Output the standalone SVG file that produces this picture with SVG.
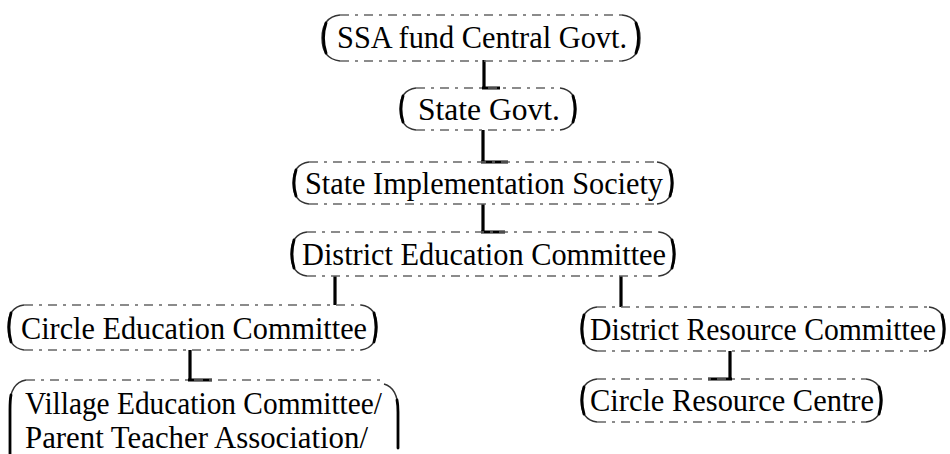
<svg xmlns="http://www.w3.org/2000/svg" width="950" height="454" viewBox="0 0 950 454">
<style>
.box{fill:none;stroke:#666;stroke-width:1.4;stroke-dasharray:9 6 3 6}
.cor{fill:none;stroke:#333;stroke-width:1.4}
.end{fill:none;stroke:#000;stroke-width:2.8;stroke-linecap:round}
.t{font-family:"Liberation Serif","DejaVu Serif",serif;font-size:31px;fill:#000}
.c{fill:none;stroke:#000;stroke-width:3.2}
</style>
<rect width="950" height="454" fill="#fff"/>
<g id="connectors">
<path class="c" d="M484,60 V88 M482,88 H500"/>
<path class="c" d="M483,130 V162 M481,162 H508"/>
<path class="c" d="M483,204 V232 M481,232 H505"/>
<path class="c" d="M335,276 V305"/>
<path class="c" d="M621,276 V307"/>
<path class="c" d="M190,350 V380 M188,380 H212"/>
<path class="c" d="M730,351 V379 M708,379 H732"/>
</g>
<g id="n1">
<path class="box" d="M340,15 H622 M340,61 H622"/>
<path class="cor" d="M340,15 Q322,17 322,38 Q322,59 340,61 M622,15 Q640,17 640,38 Q640,59 622,61"/>
<path class="end" d="M326,23 Q321,38 326,53 M636,23 Q641,38 636,53"/>
<text class="t" x="337" y="48" textLength="290" lengthAdjust="spacingAndGlyphs">SSA fund Central Govt.</text>
</g>
<g id="n2">
<path class="box" d="M416,88 H560 M416,130 H560"/>
<path class="cor" d="M416,88 Q400,90 400,109 Q400,128 416,130 M560,88 Q576,90 576,109 Q576,128 560,130"/>
<path class="end" d="M403,96 Q399,109 403,122 M573,96 Q577,109 573,122"/>
<text class="t" x="418" y="120" textLength="142" lengthAdjust="spacingAndGlyphs">State Govt.</text>
</g>
<g id="n3">
<path class="box" d="M309,162 H657 M309,204 H657"/>
<path class="cor" d="M309,162 Q293,164 293,183 Q293,202 309,204 M657,162 Q673,164 673,183 Q673,202 657,204"/>
<path class="end" d="M296,170 Q292,183 296,196 M670,170 Q674,183 670,196"/>
<text class="t" x="305" y="194" textLength="358" lengthAdjust="spacingAndGlyphs">State Implementation Society</text>
</g>
<g id="n4">
<path class="box" d="M307,232 H659 M307,276 H659"/>
<path class="cor" d="M307,232 Q291,234 291,254 Q291,274 307,276 M659,232 Q675,234 675,254 Q675,274 659,276"/>
<path class="end" d="M294,240 Q290,254 294,268 M672,240 Q676,254 672,268"/>
<text class="t" x="302" y="265" textLength="364" lengthAdjust="spacingAndGlyphs">District Education Committee</text>
</g>
<g id="n5">
<path class="box" d="M24,305 H361 M24,350 H361"/>
<path class="cor" d="M24,305 Q8,307 8,327 Q8,348 24,350 M361,305 Q377,307 377,327 Q377,348 361,350"/>
<path class="end" d="M11,313 Q7,327 11,342 M374,313 Q378,327 374,342"/>
<text class="t" x="21" y="339" textLength="346" lengthAdjust="spacingAndGlyphs">Circle Education Committee</text>
</g>
<g id="n6">
<path class="box" d="M597,307 H929 M597,351 H929"/>
<path class="cor" d="M597,307 Q581,309 581,329 Q581,349 597,351 M929,307 Q945,309 945,329 Q945,349 929,351"/>
<path class="end" d="M584,315 Q580,329 584,343 M942,315 Q946,329 942,343"/>
<text class="t" x="590" y="340" textLength="346" lengthAdjust="spacingAndGlyphs">District Resource Committee</text>
</g>
<g id="n7">
<path class="box" d="M597,379 H866 M597,422 H866"/>
<path class="cor" d="M597,379 Q581,381 581,400 Q581,420 597,422 M866,379 Q882,381 882,400 Q882,420 866,422"/>
<path class="end" d="M584,387 Q580,400 584,414 M879,387 Q883,400 879,414"/>
<text class="t" x="590" y="411" textLength="284" lengthAdjust="spacingAndGlyphs">Circle Resource Centre</text>
</g>
<g id="n8">
<path class="box" d="M26,380 H384"/>
<path class="cor" d="M26,380 Q10,383 10,405 M384,384 Q398,388 398,410"/>
<path class="end" d="M11,395 Q10,400 10,410 V470 M397,400 Q398,405 398,412 V448"/>
<text class="t" x="25" y="414" textLength="357" lengthAdjust="spacingAndGlyphs">Village Education Committee/</text>
<text class="t" x="25" y="448" textLength="343" lengthAdjust="spacingAndGlyphs">Parent Teacher Association/</text>
</g>
</svg>
